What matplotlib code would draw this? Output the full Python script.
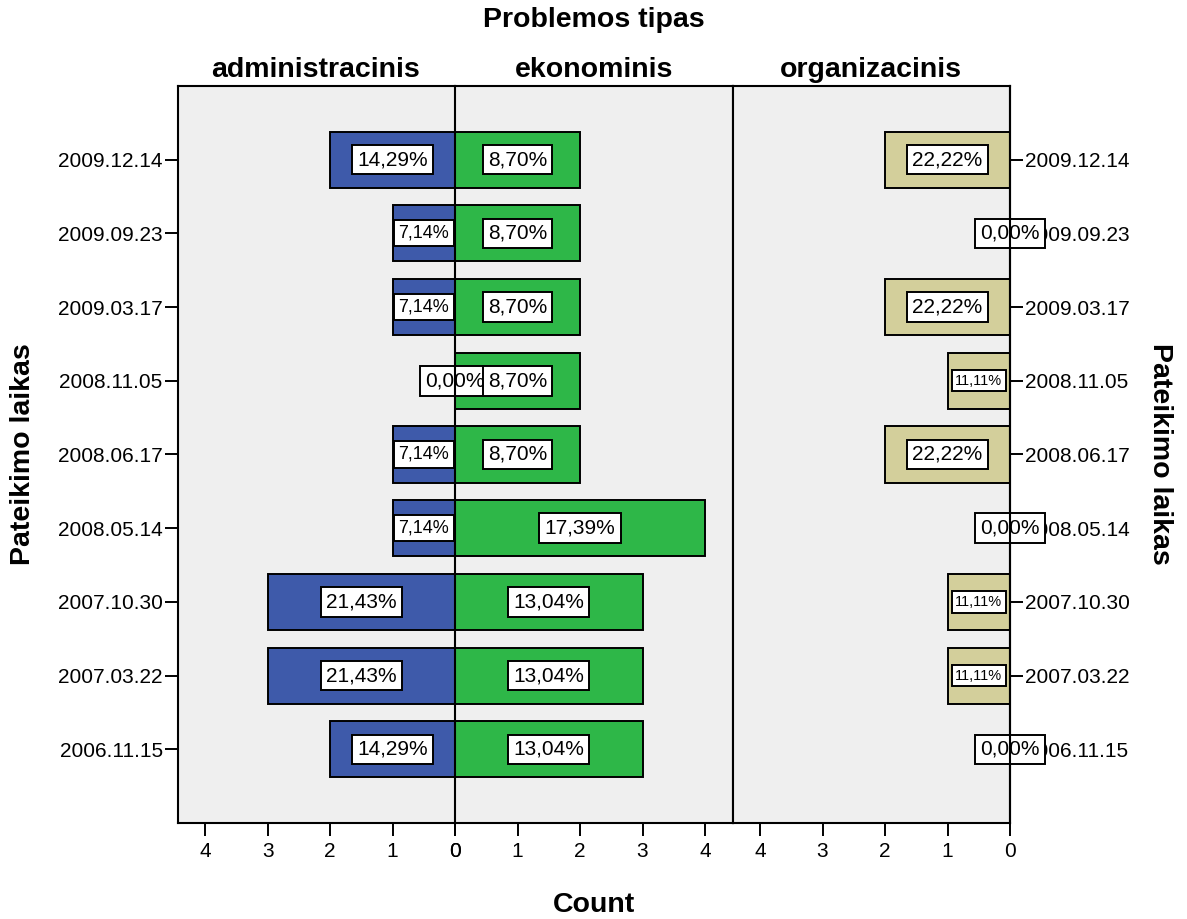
import numpy as np
import matplotlib.pyplot as plt

# data (top row first)
dates = ['2009.12.14', '2009.09.23', '2009.03.17', '2008.11.05', '2008.06.17',
         '2008.05.14', '2007.10.30', '2007.03.22', '2006.11.15']
admin = [2, 1, 1, 0, 1, 1, 3, 3, 2]
econ = [2, 2, 2, 2, 2, 4, 3, 3, 3]
org = [2, 0, 2, 1, 2, 0, 1, 1, 0]
panel_titles = ['administracinis', 'ekonominis', 'organizacinis']

plt.rcParams['font.family'] = ['Liberation Sans', 'DejaVu Sans']

W, H = 1187, 919
fig = plt.figure(figsize=(W / 100, H / 100), dpi=100)

bottom = 1 - 823 / H
height = 737 / H
ax1 = fig.add_axes([178 / W, bottom, 277 / W, height])
ax2 = fig.add_axes([455 / W, bottom, 277.5 / W, height])
ax3 = fig.add_axes([732.5 / W, bottom, 277.5 / W, height])

y = np.arange(len(dates))
xmax = 4.44
bg = '#efefef'
lw = 1.5

for ax in (ax1, ax2, ax3):
    ax.set_facecolor(bg)
    ax.set_ylim(len(dates), -1)
    ax.set_xticks([0, 1, 2, 3, 4])
    for s in ax.spines.values():
        s.set_linewidth(lw)
    ax.tick_params(axis='x', length=9.5, width=1.4, pad=4, labelsize=15)
    ax.tick_params(axis='y', length=9.5, width=1.4, pad=1.5, labelsize=15)
    ax.set_yticks(y)

ax1.set_xlim(xmax, 0)
ax2.set_xlim(0, xmax)
ax3.set_xlim(xmax, 0)

ax1.spines['right'].set_visible(False)
ax2.spines['left'].set_visible(False)
ax1.set_yticklabels(dates)
ax2.tick_params(axis='y', left=False, labelleft=False)
ax3.tick_params(axis='y', left=False, labelleft=False, right=True, labelright=True)
ax3.set_yticklabels(dates)

bar_h = 0.76
ax1.barh(y, admin, height=bar_h, color='#3e5aaa', edgecolor='black', linewidth=1.4, zorder=2)
ax2.barh(y, econ, height=bar_h, color='#2eb748', edgecolor='black', linewidth=1.4, zorder=2)
ax3.barh(y, org, height=bar_h, color='#d3cf9b', edgecolor='black', linewidth=1.4, zorder=2)

# zero lines drawn over the label boxes
ax2.axvline(0, color='black', lw=lw, zorder=4.5, clip_on=False)
ax3.axvline(0, color='black', lw=lw, zorder=4.5, clip_on=False)


def pct_labels(draw_ax, data_ax, counts, small, z):
    total = sum(counts)
    for i, c in enumerate(counts):
        txt = f'{100 * c / total:.2f}%'.replace('.', ',')
        fs = small if c == 1 else 15
        draw_ax.text(c / 2, i, txt, transform=data_ax.transData, ha='center', va='center',
                     fontsize=fs, zorder=z, clip_on=False,
                     bbox=dict(boxstyle='square,pad=0.25', fc='white', ec='black', lw=1.4))


# admin labels go on ax2 so they sit above the green bars
pct_labels(ax2, ax1, admin, 13, 4)
pct_labels(ax2, ax2, econ, 13, 5)
pct_labels(ax3, ax3, org, 10.5, 4)

fig.text(594 / W, 1 - 20 / H, 'Problemos tipas', ha='center', va='center',
         fontsize=20.5, fontweight='bold')
for cx, t in zip([316, 594, 871], panel_titles):
    fig.text(cx / W, 1 - 70 / H, t, ha='center', va='center', fontsize=20.5, fontweight='bold')
fig.text(594 / W, 1 - 905 / H, 'Count', ha='center', va='center', fontsize=20.5, fontweight='bold')
fig.text(23 / W, 1 - 454 / H, 'Pateikimo laikas', ha='center', va='center', rotation=90,
         fontsize=20.5, fontweight='bold')
fig.text(1160 / W, 1 - 454 / H, 'Pateikimo laikas', ha='center', va='center', rotation=270,
         fontsize=20.5, fontweight='bold')

fig.savefig('out.png', dpi=100)
